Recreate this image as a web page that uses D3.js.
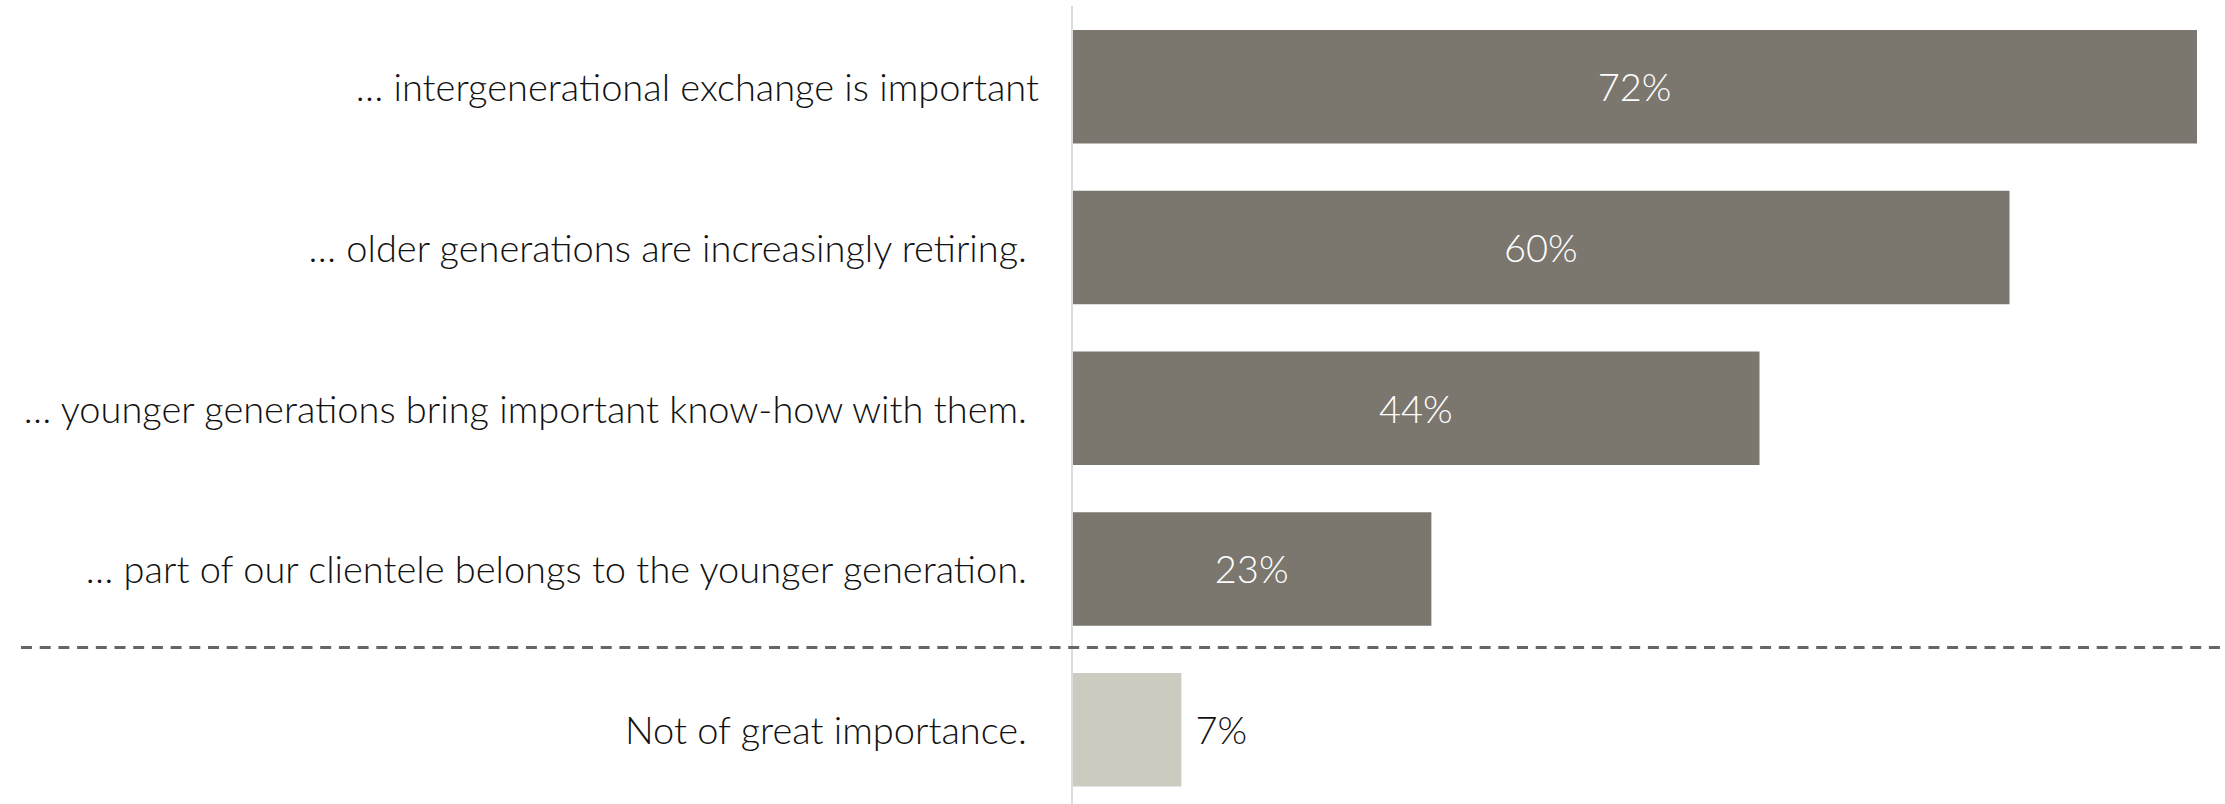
<!DOCTYPE html>
<html>
<head>
<meta charset="utf-8">
<script src="https://cdn.jsdelivr.net/npm/d3@7"></script>
<style>
  html, body { margin: 0; padding: 0; background: #fff; }
  svg { display: block; }
  text { font-family: Lato, "Open Sans", sans-serif; font-weight: 300; }
</style>
</head>
<body>
<svg id="chart" width="2225" height="804"></svg>
<script>
// Survey reasons, in display order
const categories = [
  "\u2026 intergenerational exchange is important",
  "\u2026 older generations are increasingly retiring.",
  "\u2026 younger generations bring important know-how with them.",
  "\u2026 part of our clientele belongs to the younger generation.",
  "Not of great importance."
];
const values = [72, 60, 44, 23, 7];
// Whether each row belongs to the "agree" group (dark) or the separate answer (light)
const isMain = [true, true, true, true, false];

const width = 2225, height = 804;
const axisX = 1072;

const svg = d3.select("#chart");

const x = d3.scaleLinear().domain([0, 72]).range([axisX, 2197]);
const y = d3.scaleBand().domain(categories).range([30, 786.5]).paddingInner(0.294).paddingOuter(0);

// vertical baseline
svg.append("line")
  .attr("x1", axisX).attr("x2", axisX)
  .attr("y1", 6).attr("y2", height)
  .attr("stroke", "#dcdcdc").attr("stroke-width", 2);

// bars
svg.selectAll("rect.bar")
  .data(categories)
  .join("rect")
  .attr("class", "bar")
  .attr("x", axisX + 1)
  .attr("y", d => y(d))
  .attr("width", (d, i) => x(values[i]) - axisX - 1)
  .attr("height", y.bandwidth())
  .attr("fill", (d, i) => isMain[i] ? "#7b776f" : "#cdcbbf");

// dashed separator between the two groups
const sepY = (y(categories[3]) + y.bandwidth() + y(categories[4])) / 2 - 2;
svg.append("line")
  .attr("x1", 21).attr("x2", width)
  .attr("y1", sepY).attr("y2", sepY)
  .attr("stroke", "#666").attr("stroke-width", 3)
  .attr("stroke-dasharray", "11,7.7");

// category labels
svg.selectAll("text.cat")
  .data(categories)
  .join("text")
  .attr("class", "cat")
  .attr("x", (d, i) => i === 0 ? 1039 : 1027)
  .attr("y", d => y(d) + y.bandwidth() / 2)
  .attr("dy", "0.38em")
  .attr("text-anchor", "end")
  .attr("font-size", 38)
  .attr("fill", "#111")
  .text(d => d);

// value labels
svg.selectAll("text.val")
  .data(categories)
  .join("text")
  .attr("class", "val")
  .attr("x", (d, i) => isMain[i] ? (axisX + x(values[i])) / 2 : x(values[i]) + 14)
  .attr("y", d => y(d) + y.bandwidth() / 2)
  .attr("dy", "0.38em")
  .attr("text-anchor", (d, i) => isMain[i] ? "middle" : "start")
  .attr("font-size", 38)
  .attr("fill", (d, i) => isMain[i] ? "#fff" : "#111")
  .text((d, i) => values[i] + "%");
</script>
</body>
</html>
